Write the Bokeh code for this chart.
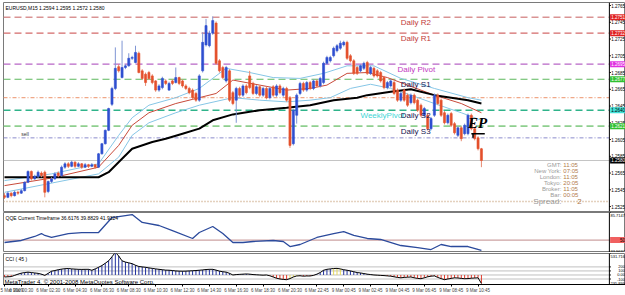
from bokeh.plotting import figure
from bokeh.layouts import column
from bokeh.models import Range1d, FixedTicker, Span, ColumnDataSource
from bokeh.core.properties import value
from bokeh.embed import file_html
from bokeh.resources import INLINE

# ---------------- data (EURUSD M15, 5-9 Mar 2009) ----------------
bars = list(range(143))
open_ = [1.2538,1.2536,1.2541,1.2538,1.2542,1.2541,1.2544,1.2554,1.2567,1.2558,
1.2561,1.2565,1.2566,1.2543,1.2555,1.2558,1.2565,1.2562,1.2572,1.2576,
1.2573,1.2578,1.2573,1.2576,1.2572,1.2575,1.2573,1.2575,1.2572,1.2588,
1.2600,1.2616,1.2647,1.2666,1.2692,1.2679,1.2691,1.2693,1.2702,1.2697,
1.2708,1.2687,1.2683,1.2685,1.2681,1.2675,1.2664,1.2667,1.2675,1.2664,
1.2675,1.2673,1.2679,1.2675,1.2669,1.2666,1.2664,1.2660,1.2652,1.2687,
1.2718,1.2717,1.2732,1.2744,1.2699,1.2691,1.2675,1.2687,1.2661,1.2652,
1.2666,1.2658,1.2669,1.2681,1.2672,1.2660,1.2668,1.2658,1.2666,1.2655,
1.2668,1.2658,1.2669,1.2658,1.2666,1.2655,1.2600,1.2634,1.2660,1.2672,
1.2664,1.2673,1.2666,1.2675,1.2669,1.2673,1.2696,1.2699,1.2705,1.2711,
1.2714,1.2718,1.2721,1.2705,1.2699,1.2691,1.2687,1.2690,1.2697,1.2684,
1.2690,1.2687,1.2685,1.2679,1.2667,1.2669,1.2673,1.2664,1.2652,1.2664,
1.2658,1.2649,1.2658,1.2652,1.2646,1.2634,1.2634,1.2618,1.2634,1.2658,
1.2652,1.2637,1.2625,1.2636,1.2624,1.2610,1.2619,1.2612,1.2612,1.2634,
1.2618,1.2607,1.2594]
high = [1.2541,1.2543,1.2542,1.2544,1.2544,1.2546,1.2555,1.2568,1.2568,1.2563,
1.2568,1.2567,1.2568,1.2556,1.2560,1.2566,1.2567,1.2574,1.2578,1.2578,
1.2580,1.2579,1.2578,1.2577,1.2577,1.2576,1.2577,1.2576,1.2589,1.2601,
1.2617,1.2643,1.2668,1.2715,1.2695,1.2723,1.2695,1.2708,1.2705,1.2717,
1.2710,1.2689,1.2685,1.2687,1.2683,1.2676,1.2671,1.2680,1.2677,1.2674,
1.2677,1.2691,1.2680,1.2677,1.2671,1.2668,1.2666,1.2662,1.2683,1.2733,
1.2749,1.2735,1.2752,1.2746,1.2701,1.2693,1.2693,1.2689,1.2663,1.2668,
1.2668,1.2671,1.2671,1.2687,1.2674,1.2670,1.2670,1.2668,1.2668,1.2668,
1.2670,1.2671,1.2671,1.2668,1.2668,1.2657,1.2642,1.2660,1.2674,1.2674,
1.2675,1.2675,1.2677,1.2677,1.2680,1.2698,1.2705,1.2705,1.2716,1.2719,
1.2723,1.2723,1.2723,1.2707,1.2701,1.2693,1.2695,1.2698,1.2699,1.2693,
1.2692,1.2689,1.2687,1.2681,1.2675,1.2677,1.2675,1.2666,1.2662,1.2666,
1.2660,1.2660,1.2660,1.2654,1.2648,1.2644,1.2636,1.2632,1.2660,1.2660,
1.2654,1.2639,1.2636,1.2638,1.2626,1.2621,1.2621,1.2624,1.2636,1.2636,
1.2620,1.2609,1.2595]
low = [1.2534,1.2535,1.2536,1.2537,1.2539,1.2540,1.2543,1.2553,1.2556,1.2557,
1.2559,1.2560,1.2536,1.2541,1.2553,1.2557,1.2560,1.2561,1.2570,1.2571,
1.2572,1.2571,1.2572,1.2570,1.2571,1.2571,1.2572,1.2570,1.2571,1.2587,
1.2599,1.2615,1.2645,1.2664,1.2685,1.2678,1.2689,1.2692,1.2700,1.2696,
1.2684,1.2676,1.2669,1.2676,1.2671,1.2662,1.2662,1.2665,1.2670,1.2663,
1.2670,1.2672,1.2670,1.2667,1.2664,1.2659,1.2653,1.2650,1.2650,1.2685,
1.2716,1.2715,1.2730,1.2694,1.2685,1.2677,1.2673,1.2650,1.2646,1.2625,
1.2656,1.2656,1.2659,1.2665,1.2658,1.2658,1.2656,1.2656,1.2653,1.2653,
1.2656,1.2656,1.2659,1.2656,1.2650,1.2595,1.2598,1.2624,1.2658,1.2662,
1.2662,1.2664,1.2664,1.2667,1.2667,1.2671,1.2694,1.2697,1.2703,1.2709,
1.2712,1.2716,1.2700,1.2697,1.2682,1.2682,1.2685,1.2688,1.2682,1.2682,
1.2679,1.2679,1.2673,1.2665,1.2665,1.2667,1.2658,1.2650,1.2650,1.2650,
1.2644,1.2647,1.2647,1.2638,1.2632,1.2632,1.2616,1.2616,1.2632,1.2646,
1.2632,1.2623,1.2623,1.2620,1.2611,1.2608,1.2603,1.2610,1.2610,1.2616,
1.2604,1.2592,1.2572]
close = [1.2536,1.2541,1.2538,1.2542,1.2541,1.2544,1.2554,1.2567,1.2558,1.2561,
1.2566,1.2562,1.2542,1.2555,1.2558,1.2564,1.2562,1.2572,1.2576,1.2573,
1.2578,1.2573,1.2576,1.2572,1.2575,1.2573,1.2575,1.2572,1.2588,1.2600,
1.2616,1.2642,1.2666,1.2690,1.2687,1.2691,1.2693,1.2702,1.2703,1.2709,
1.2685,1.2678,1.2673,1.2678,1.2673,1.2664,1.2669,1.2678,1.2672,1.2672,
1.2672,1.2679,1.2672,1.2669,1.2666,1.2661,1.2655,1.2652,1.2681,1.2721,
1.2741,1.2732,1.2747,1.2696,1.2687,1.2679,1.2691,1.2652,1.2648,1.2666,
1.2658,1.2669,1.2661,1.2667,1.2660,1.2668,1.2658,1.2666,1.2655,1.2666,
1.2658,1.2669,1.2661,1.2666,1.2652,1.2598,1.2640,1.2658,1.2672,1.2664,
1.2673,1.2666,1.2675,1.2669,1.2678,1.2696,1.2703,1.2703,1.2714,1.2717,
1.2720,1.2721,1.2702,1.2699,1.2684,1.2684,1.2693,1.2696,1.2684,1.2691,
1.2681,1.2681,1.2675,1.2667,1.2673,1.2675,1.2660,1.2652,1.2660,1.2652,
1.2646,1.2658,1.2649,1.2640,1.2634,1.2642,1.2618,1.2630,1.2658,1.2648,
1.2634,1.2625,1.2634,1.2622,1.2613,1.2619,1.2606,1.2622,1.2634,1.2618,
1.2606,1.2594,1.2580]

# moving averages (bar index, price)
ma_slow_bar = [0, 28, 31, 35, 38, 44, 48, 53, 58, 62, 68, 76, 84, 91, 98, 105, 108, 115, 121, 128, 138, 142]
ma_slow_val = [1.2560, 1.2560, 1.2566, 1.2582, 1.2594, 1.2602, 1.2606, 1.2612, 1.2618, 1.2628, 1.2635,
               1.2640, 1.2643, 1.2646, 1.2652, 1.2655, 1.2658, 1.2662, 1.2665, 1.2658, 1.2652, 1.2648]
ma_mid_bar = [0, 14, 28, 34, 38, 43, 51, 58, 63, 68, 76, 84, 91, 96, 102, 108, 114, 120, 128, 136, 142]
ma_mid_val = [1.2550, 1.2559, 1.2572, 1.2598, 1.2622, 1.2637, 1.2648, 1.2655, 1.2660, 1.2676, 1.2670,
              1.2664, 1.2666, 1.2670, 1.2684, 1.2685, 1.2679, 1.2670, 1.2658, 1.2648, 1.2637]
env_up_bar = [0, 14, 28, 34, 38, 43, 51, 58, 66, 73, 80, 88, 95, 102, 110, 118, 128, 138, 142]
env_up_val = [1.2556, 1.2564, 1.2576, 1.2610, 1.2631, 1.2646, 1.2655, 1.2666, 1.2690, 1.2685, 1.2679,
              1.2678, 1.2684, 1.2693, 1.2693, 1.2678, 1.2666, 1.2655, 1.2652]
env_dn_bar = [0, 14, 28, 34, 38, 43, 51, 58, 68, 76, 84, 91, 97, 103, 109, 115, 121, 128, 136, 142]
env_dn_val = [1.2542, 1.2553, 1.2564, 1.2584, 1.2610, 1.2625, 1.2637, 1.2646, 1.2655, 1.2652, 1.2650,
              1.2652, 1.2655, 1.2666, 1.2671, 1.2666, 1.2658, 1.2648, 1.2637, 1.2628]

# pivot levels
level_values = [1.2751, 1.2732, 1.2695, 1.2677, 1.2655, 1.2640, 1.2621, 1.2607, 1.2580, 1.2531]
level_names = ["Daily R2", "Daily R1", "Daily Pivot", "Daily S1", "WeeklyPivot", "Daily S2", "Daily S3"]
level_name_values = [1.2751, 1.2732, 1.2695, 1.2677, 1.2640, 1.2640, 1.2621]
level_name_bars = [118, 118, 117, 118, 106, 118, 118]
price_ticks = [1.2765, 1.2745, 1.2725, 1.2705, 1.2685, 1.2665, 1.2645, 1.2625, 1.2605,
               1.2585, 1.2565, 1.2545, 1.2525]
tag_values = [1.2751, 1.2732, 1.2695, 1.2677, 1.2640, 1.2621, 1.2580]

# time axis
x_tick_bars = [0, 5, 13, 21, 29, 37, 45, 53, 61, 69, 77, 85, 93, 101, 109, 117, 125, 133, 141]
x_tick_labels = ["5 Mar 2009", "6 Mar 00:30", "6 Mar 02:30", "6 Mar 04:30", "6 Mar 06:30",
                 "6 Mar 08:30", "6 Mar 10:30", "6 Mar 12:30", "6 Mar 14:30", "6 Mar 16:30",
                 "6 Mar 18:30", "6 Mar 20:30", "6 Mar 22:45", "9 Mar 00:45", "9 Mar 02:45",
                 "9 Mar 04:45", "9 Mar 06:45", "9 Mar 08:45", "9 Mar 10:45"]

# QQE
qqe_bar = [0, 5, 9, 11, 12, 14, 19, 23, 28, 32, 38, 41, 46, 50, 56, 58, 62, 65, 68, 71,
           74, 80, 83, 85, 88, 93, 98, 101, 104, 108, 112, 118, 123, 127, 130, 133, 138, 142]
qqe_val = [46.9, 49.5, 54.7, 58.5, 56.0, 53.4, 58.5, 59.8, 59.8, 79.2, 83.1, 72.8, 68.9, 62.4, 52.1,
           59.8, 67.6, 58.5, 46.9, 46.9, 48.2, 49.5, 48.2, 41.7, 44.3, 53.4, 58.5, 61.1, 56.0, 52.1,
           50.8, 43.0, 40.4, 37.8, 44.3, 41.7, 41.7, 36.6176]
qqe_title_values = [36.6176, 39.8829, 41.9324]
qqe_min, qqe_max, qqe_level = 33.9637, 85.7147, 50.0

# CCI(45)
cci = [-50,-45,-40,-10,20,45,60,70,60,50,
       40,20,-10,40,93,110,130,145,155,160,
       150,145,140,138,140,140,117,150,190,233,
       290,350,450,560,470,350,320,300,280,240,
       210,200,190,175,163,150,140,130,120,117,
       110,100,95,93,95,100,105,110,117,125,
       135,140,140,120,95,80,70,40,0,10,
       15,20,25,20,10,5,0,-5,0,-20,
       -50,-80,-100,-110,-117,-90,-50,-25,-20,-30,
       -25,-25,-10,20,60,117,140,150,160,163,
       150,130,117,100,80,60,50,35,20,10,
       0,-5,-10,-15,-23,-30,-45,-60,-70,-60,
       -55,-50,-70,-85,-93,-70,-45,-30,-23,-60,
       -90,-117,-100,-85,-70,-75,-85,-93,-90,-80,
       -75,-70,-210]
cci_yellow_bars = [85, 86, 87, 98, 99, 100]
cci_min, cci_max = -235.899, 531.716
cci_levels = [200, 100, 0, -100]
cci_ticks = [200, 100, 0, -100]
cci_tick_labels = ["200", "100", "0.00", "-100"]

info_labels = ["GMT:", "New York:", "London:", "Tokyo:", "Broker:", "Bar:"]
info_times = ["11:05", "07:05", "11:05", "20:05", "11:05", "00:05"]
spread = "2"

# ---------------- layout constants ----------------
FONT = "Liberation Sans"
W = 625
X0, X1 = -0.3, 184.9        # bar range across the full frame width
AXIS_X = 180.1              # price-scale line position (in bars)
LABEL_X = 184.75            # right edge of the scale labels (in bars)
xr = Range1d(X0, X1)

common = dict(output_backend="svg", toolbar_location=None, x_range=xr,
              background_fill_color="white", border_fill_color="white",
              outline_line_color="#7a7a7a", min_border_left=3, min_border_right=0)


def hline(fig, y, color, dash="solid", width=1.0):
    fig.segment(x0=[X0], y0=[y], x1=[AXIS_X], y1=[y], line_color=color,
                line_dash=dash, line_width=width)


def price_scale(fig, ticks, labels, top=None, bottom=None, size="4.5px"):
    fig.add_layout(Span(location=AXIS_X, dimension="height", line_color="black", line_width=1))
    allt = list(ticks)
    if top is not None:
        allt.append(top[0])
    if bottom is not None:
        allt.append(bottom[0])
    fig.segment(x0=[AXIS_X] * len(allt), y0=allt, x1=[AXIS_X + 0.45] * len(allt), y1=allt,
                line_color="black", line_width=1)
    kw = dict(text_color="black", text_font=value(FONT), text_font_size=size,
              text_align="right")
    if ticks:
        fig.text(x=[LABEL_X] * len(ticks), y=ticks, text=labels, text_baseline="middle", **kw)
    if top is not None:
        fig.text(x=[LABEL_X], y=[top[0]], text=[top[1]], text_baseline="top", y_offset=1, **kw)
    if bottom is not None:
        fig.text(x=[LABEL_X], y=[bottom[0]], text=[bottom[1]], text_baseline="bottom", **kw)


def tags(fig, ys, texts, bgs, fgs):
    fig.rect(x=[AXIS_X + 2.45] * len(ys), y=ys, width=15, height=6, width_units="screen",
             height_units="screen", fill_color=bgs, line_color=None)
    fig.text(x=[LABEL_X] * len(ys), y=ys, text=texts, text_color=fgs,
             text_font=value(FONT), text_font_size="4.5px", text_align="right",
             text_baseline="middle")


# ---------------- main price panel ----------------
p = figure(width=W, height=212, y_range=Range1d(1.25191, 1.27686),
           x_axis_location=None, y_axis_location=None,
           min_border_top=2, min_border_bottom=1, **common)
p.grid.visible = False

level_colors = ["#d99393", "#d46a6a", "#b866c6", "#5cb85c", "#f0a888", "#2fb38a",
                "#8fcf8f", "#8c8ccc", "#c4c4c4", "#c8a27c"]
level_dashes = ["7 4", "7 4", "7 4", "7 4", "4 2 1 2", "7 4", "7 4", "4 2 1 2", "solid", "1 2"]
level_widths = [1.4, 1.4, 1.4, 1.2, 1.2, 1.6, 1.6, 1.0, 1.0, 1.6]
for v, col, d, w in zip(level_values, level_colors, level_dashes, level_widths):
    hline(p, v, col, d, w)

# moving averages
p.line(env_up_bar, env_up_val, line_color="#86c6e6", line_width=1)
p.line(env_dn_bar, env_dn_val, line_color="#86c6e6", line_width=1)
p.line(ma_mid_bar, ma_mid_val, line_color="#c84a3a", line_width=1)
p.line(ma_slow_bar, ma_slow_val, line_color="black", line_width=2)

# candles
up = [c >= o for o, c in zip(open_, close)]
src = ColumnDataSource(dict(
    x=bars, h=high, l=low,
    top=[max(o, c) for o, c in zip(open_, close)],
    bot=[min(o, c) for o, c in zip(open_, close)],
    body=["#2f4fd0" if u else "#e4502c" for u in up],
    wick=["#7f95d4" if u else "#e88a70" for u in up],
))
p.segment(x0="x", y0="l", x1="x", y1="h", line_color="wick", line_width=1, source=src)
p.vbar(x="x", width=0.62, top="top", bottom="bot", fill_color="body",
       line_color="body", line_width=0.6, source=src)

# level names
name_colors = ["#c23a3a", "#c23a3a", "#c23ac2", "#141450", "#3fd6d6", "#141450", "#141450"]
p.text(x=level_name_bars, y=level_name_values, text=level_names, text_color=name_colors,
       text_font=value(FONT), text_font_size="8px", text_baseline="top", y_offset=1)
p.text(x=[5], y=[level_values[7]], text=["sell"], text_color="#333333",
       text_font=value(FONT), text_font_size="5px", text_baseline="bottom", y_offset=-1)

# title
p.text(x=[X0], y=[1.27686], text=[
    "EURUSD,M15  %.4f %.4f %.4f %.4f" % (open_[-1], high[-1], low[-1], close[-1])],
    text_color="black", text_font=value(FONT), text_font_size="5px",
    text_baseline="top", x_offset=2, y_offset=2)

# EP annotation
p.text(x=[138], y=[1.2625], text=["EP"], text_color="black",
       text_font=value("Liberation Serif"), text_font_style="bold italic",
       text_font_size="15px", text_baseline="middle")
p.segment(x0=[139], y0=[1.2612], x1=[143], y1=[1.2612], line_color="black", line_width=1.5)
p.segment(x0=[139.5], y0=[1.2612], x1=[139.5], y1=[1.2607], line_color="black", line_width=1.5)

# info box
info_src = ColumnDataSource(dict(x=[165.8] * 6, y=[1.25752] * 6, lab=info_labels,
                                 t=info_times, yo=[0, 6, 12, 18, 24, 30]))
p.text(x="x", y="y", text="lab", y_offset="yo", source=info_src, text_align="right",
       text_baseline="middle", text_color="#9a9a9a", text_font=value(FONT),
       text_font_size="6px")
p.text(x=[x + 0.6 for x in info_src.data["x"]], y=info_src.data["y"], text=info_times,
       y_offset=info_src.data["yo"], text_align="left", text_baseline="middle",
       text_color="#b27a4a", text_font=value(FONT), text_font_size="6px")
p.text(x=[165.8], y=[1.25752], text=["Spread:"], y_offset=37, text_align="right",
       text_baseline="middle", text_color="#9a9a9a", text_font=value(FONT), text_font_size="8px")
p.text(x=[170.5], y=[1.25752], text=[spread], y_offset=37, text_align="left",
       text_baseline="middle", text_color="#b27a4a", text_font=value(FONT), text_font_size="8px")

# price scale + coloured tags
price_scale(p, price_ticks, ["%.4f" % t for t in price_ticks])
tag_bg = ["#e02020", "#e02020", "#e030e0", "#30c030", "#40e0d8", "#30c030", "black"]
tag_fg = ["white", "white", "white", "white", "black", "white", "white"]
tags(p, tag_values, ["%.4f" % v for v in tag_values], tag_bg, tag_fg)

# ---------------- QQE panel ----------------
q = figure(width=W, height=40, y_range=Range1d(qqe_min, qqe_max),
           x_axis_location=None, y_axis_location=None,
           min_border_top=0, min_border_bottom=0, **common)
q.grid.visible = False
hline(q, qqe_level, "#c08a8a", "solid", 1.0)
q.line(qqe_bar, qqe_val, line_color="#2b4a9c", line_width=1.3)
q.text(x=[X0], y=[qqe_max], text=[
    "QQE Current Timeframe " + " ".join("%.4f" % v for v in qqe_title_values)],
    text_color="black", text_font=value(FONT), text_font_size="5px",
    text_baseline="top", x_offset=2, y_offset=2)
price_scale(q, [], [], top=(qqe_max, "%.4f" % qqe_max), bottom=(qqe_min, "%.4f" % qqe_min),
            size="4px")
tags(q, [qqe_level], ["50"], ["#f06060"], ["black"])

# ---------------- CCI panel ----------------
c = figure(width=W, height=43, y_range=Range1d(cci_min, cci_max),
           y_axis_location=None, min_border_top=1, min_border_bottom=0, **common)
c.grid.visible = False
for lv in cci_levels:
    hline(c, lv, "#808080", "1 1", 1.0)
cci_col = []
for i, v in enumerate(cci):
    if i in cci_yellow_bars:
        cci_col.append("#e6d85a")
    elif v >= 0:
        cci_col.append("#22329e")
    else:
        cci_col.append("#e03a2a")
c.segment(x0=bars, y0=[0] * len(bars), x1=bars, y1=cci, line_color=cci_col, line_width=1)
c.line(bars, cci, line_color="black", line_width=1)
c.text(x=[X0], y=[cci_max], text=["CCI ( 45 )"], text_color="black",
       text_font=value(FONT), text_font_size="5px", text_baseline="top", x_offset=2, y_offset=2)
c.text(x=[X0], y=[cci_min], text=["MetaTrader 4, \u00a9 2001-2008 MetaQuotes Software Corp."],
       text_color="black", text_font=value(FONT), text_font_size="6px",
       text_baseline="bottom", x_offset=1, y_offset=0)
price_scale(c, cci_ticks, cci_tick_labels, top=(cci_max, "%.3f" % cci_max),
            bottom=(cci_min, "%.3f" % cci_min), size="4px")

xa = c.xaxis[0]
xa.ticker = FixedTicker(ticks=x_tick_bars)
xa.major_label_overrides = dict(zip(x_tick_bars, x_tick_labels))
xa.major_label_text_align = "left"
xa.major_label_text_font_size = "4.5px"
xa.major_label_text_font = FONT
xa.major_tick_out = 2
xa.major_tick_in = 0
xa.minor_tick_out = 0
xa.minor_tick_in = 0
xa.major_label_standoff = 1
xa.axis_line_color = "black"

layout = column(p, q, c, spacing=0)
open("out.html", "w").write(file_html(layout, INLINE))
